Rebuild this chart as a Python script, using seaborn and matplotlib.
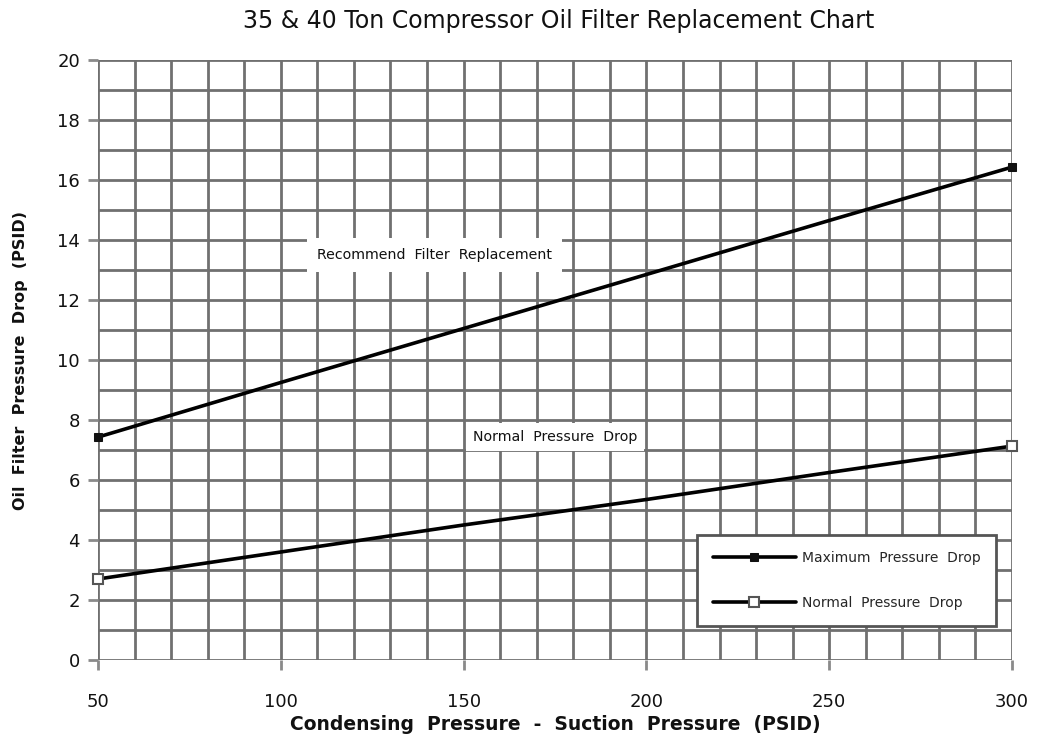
import matplotlib
matplotlib.use("Agg")
import matplotlib.pyplot as plt
import seaborn as sns
import pandas as pd
import numpy as np

sns.set_theme(style="white")
plt.rcParams['font.family'] = ['DejaVu Sans']

x_vals = [50, 100, 150, 200, 250, 300]
max_drop = [7.43, 9.25, 11.05, 12.85, 14.65, 16.43]
normal_drop = [2.70, 3.60, 4.50, 5.35, 6.25, 7.13]
x_ticks = [50, 100, 150, 200, 250, 300]
y_ticks = [0, 2, 4, 6, 8, 10, 12, 14, 16, 18, 20]

df = pd.DataFrame({
    "x": x_vals * 2,
    "y": max_drop + normal_drop,
    "series": ["Maximum Pressure Drop"] * len(x_vals) + ["Normal Pressure Drop"] * len(x_vals),
})

fig = plt.figure(figsize=(10.44, 7.38), dpi=100)
ax = fig.add_axes([98 / 1044, 78 / 738, 914 / 1044, 600 / 738])

sns.lineplot(data=df[df.series == "Maximum Pressure Drop"], x="x", y="y", ax=ax,
             color="black", linewidth=2.6, marker="s", markersize=6,
             markevery=[0, len(x_vals) - 1], markerfacecolor="#111111",
             markeredgecolor="#111111", label="Maximum  Pressure  Drop",
             zorder=5, clip_on=False)
sns.lineplot(data=df[df.series == "Normal Pressure Drop"], x="x", y="y", ax=ax,
             color="black", linewidth=2.6, marker="s", markersize=7.5,
             markevery=[0, len(x_vals) - 1], markerfacecolor="white",
             markeredgecolor="#555555", markeredgewidth=1.5,
             label="Normal  Pressure  Drop", zorder=5, clip_on=False)

ax.set_xlim(50, 300)
ax.set_ylim(0, 20)
ax.set_xticks(np.arange(50, 301, 10), minor=True)
ax.set_yticks(np.arange(0, 21, 1), minor=True)
ax.set_xticks(x_ticks)
ax.set_yticks(y_ticks)
ax.grid(True, which="both", color="#707070", linewidth=2.0)
ax.set_axisbelow(True)
for s in ax.spines.values():
    s.set_visible(False)
ax.tick_params(axis="both", which="minor", length=0)
ax.tick_params(axis="both", which="major", length=7, width=2.0, color="#8a8a8a",
               labelsize=13, labelcolor="#111111", direction="out")
ax.xaxis.set_ticks_position("bottom")
ax.yaxis.set_ticks_position("left")
ax.tick_params(axis="x", which="major", pad=17)
ax.tick_params(axis="y", which="major", pad=6)

ax.set_xlabel("Condensing  Pressure  -  Suction  Pressure  (PSID)", fontsize=13.5,
              fontweight="bold", labelpad=3, color="#111111")
ax.set_ylabel("Oil  Filter  Pressure  Drop  (PSID)", fontsize=11.5, fontweight="bold",
              labelpad=21, color="#111111")
fig.suptitle("35 & 40 Ton Compressor Oil Filter Replacement Chart", fontsize=17,
             x=0.535, y=0.988, color="#111111")

ax.text(142, 13.5, "Recommend  Filter  Replacement", fontsize=10.2, ha="center",
        va="center", color="#111111",
        bbox=dict(facecolor="white", edgecolor="none", pad=7), zorder=4)
ax.text(175, 7.43, "Normal  Pressure  Drop", fontsize=10.2, ha="center", va="center",
        color="#111111",
        bbox=dict(facecolor="white", edgecolor="none", pad=5), zorder=4)

leg = ax.legend(loc="upper left", bbox_to_anchor=(0.655, 0.2083), fontsize=10,
                frameon=True, fancybox=False, borderpad=1.15, labelspacing=2.2,
                handlelength=6.0, handletextpad=0.4, borderaxespad=0,
                framealpha=1)
leg.get_frame().set_edgecolor("#555555")
leg.get_frame().set_linewidth(2)
leg.set_zorder(10)

fig.savefig("out.png", dpi=100)
